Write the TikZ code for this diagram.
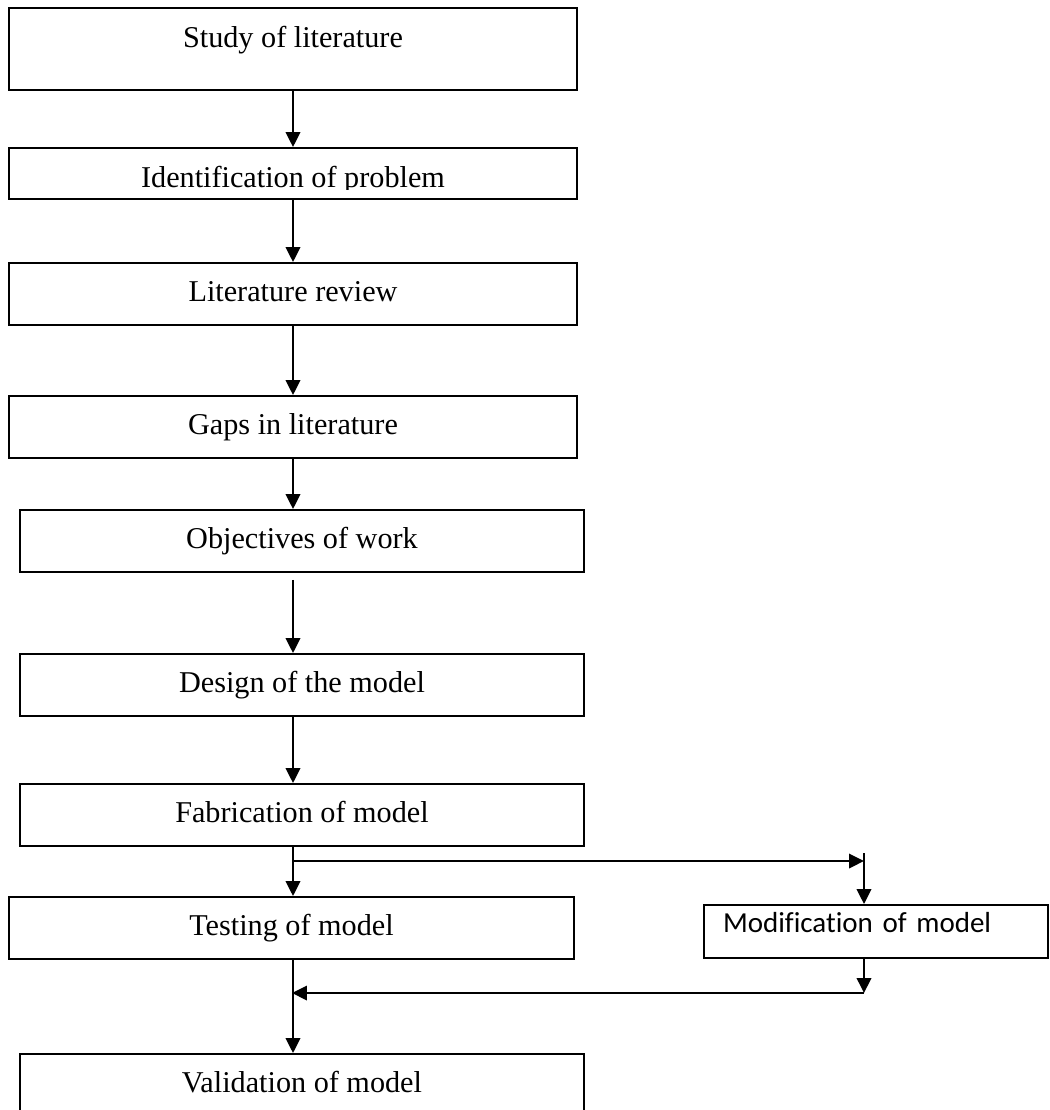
\documentclass[tikz,border=0pt]{standalone}
\usepackage{fontspec}
\setmainfont{Liberation Serif}
\newfontfamily\calibri[Ligatures=NoCommon]{Carlito}
\usetikzlibrary{arrows.meta}

\begin{document}
\begin{tikzpicture}[x=0.02cm,y=-0.02cm,line width=1.1pt,
        >={Triangle[length=0.3cm,width=0.29cm]},
        stage/.style={draw,rectangle,inner sep=0pt,minimum width=11.36cm,minimum height=1.24cm,
            text height=0.42cm,text depth=0.13cm,font=\fontsize{17.2}{20}\selectfont},
        wide/.style={stage,minimum width=11.28cm}]
        \useasboundingbox (0,0) rectangle (1050,1110);
        \node[stage,minimum height=1.64cm,text depth=0.49cm] (study) at (293,49) {Study of literature};
        \node[stage,minimum height=1.02cm] (ident) at (293,173.5) {};
        \begin{scope}
            \clip (ident.north west) rectangle (577,189);
            \node[anchor=base,font=\fontsize{17.2}{20}\selectfont] (identtext) at (293,187) {Identification of problem};
        \end{scope}
        \node[stage] (litrev) at (293,294) {Literature review};
        \node[stage] (gaps) at (293,427) {Gaps in literature};
        \node[wide] (obj) at (302,541) {Objectives of work};
        \node[wide] (design) at (302,685) {Design of the model};
        \node[wide] (fab) at (302,815) {Fabrication of model};
        \node[stage,minimum width=11.3cm] (test) at (291.5,928) {Testing of model};
        \node[draw,rectangle,inner xsep=0.38cm,inner ysep=0pt,text width=6.12cm,align=left,
            minimum height=1.06cm,text height=0.42cm,text depth=0.37cm,
            font=\calibri\fontsize{16.5}{20}\selectfont] (mod) at (876,931.5) {Modification of model};
        \node[wide] (valid) at (302,1085) {Validation of model};

        \coordinate (split) at (292,861);
        \coordinate (turn) at (864,861);
        \coordinate (turntop) at (864,853);
        \coordinate (join) at (864,993);
        \coordinate (merge) at (292,993);

        \draw[->] (study.south) -- (ident.north);
        \draw[->] (ident.south) -- (litrev.north);
        \draw[->] (litrev.south) -- (gaps.north);
        \draw[->] (gaps.south) -- (obj.north -| gaps.south);
        \draw[->] ([yshift=-0.14cm]obj.south -| gaps.south) -- (design.north -| gaps.south);
        \draw[->] (design.south -| gaps.south) -- (fab.north -| gaps.south);
        \draw[->] (fab.south -| gaps.south) -- (test.north -| gaps.south);
        \draw[->] (split) -- (turn);
        \draw[->] (turntop) -- (mod.north -| turn);
        \draw[->] (mod.south -| turn) -- (join);
        \draw[->] (join) -- (merge);
        \draw[->] (test.south -| gaps.south) -- (valid.north -| gaps.south);
    \end{tikzpicture}
\end{document}
